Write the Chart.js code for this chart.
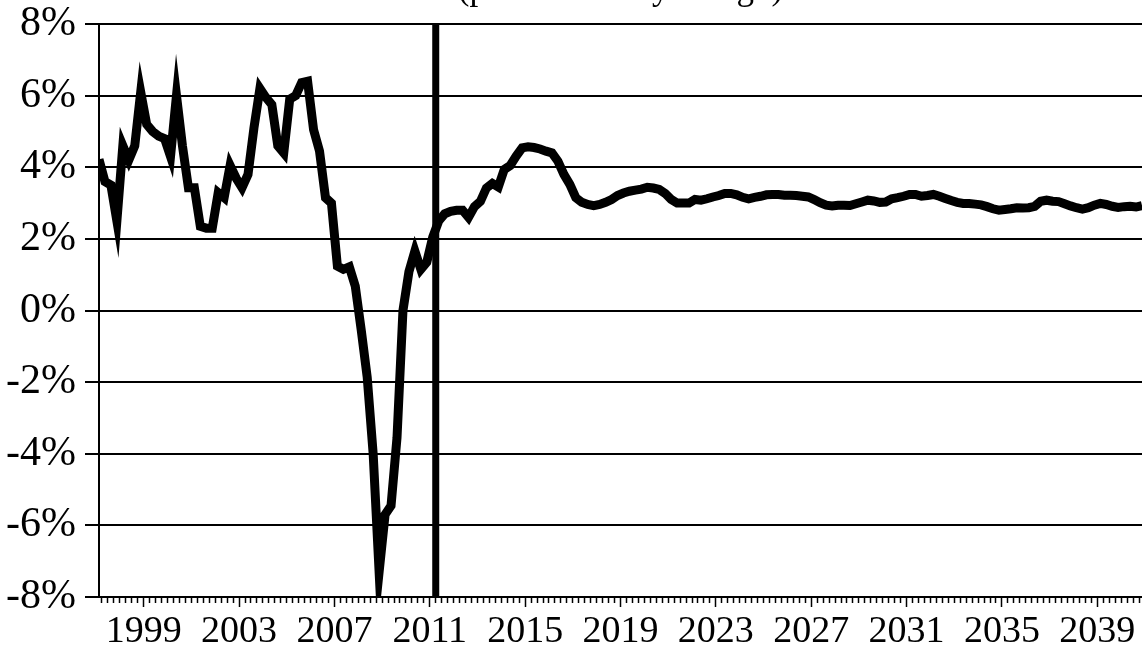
<!DOCTYPE html>
<html>
<head>
<meta charset="utf-8">
<script src="https://cdn.jsdelivr.net/npm/chart.js@4.4.1/dist/chart.umd.min.js"></script>
<style>
  html, body { margin: 0; padding: 0; background: #fff; }
</style>
</head>
<body>
<canvas id="growthChart" width="1142" height="652"></canvas>
<script>
// quarterly series, 1997Q1 .. 2040Q4 (one row = two years)
const firstYear = 1997;
const growth = [
  4.22, 3.6, 3.5, 2.5, 4.6, 4.2, 4.6, 6.1,
  5.2, 5.0, 4.87, 4.8, 4.3, 6.0, 4.6, 3.43,
  3.43, 2.35, 2.3, 2.3, 3.29, 3.15, 4.05, 3.7,
  3.43, 3.8, 5.1, 6.2, 5.95, 5.75, 4.6, 4.4,
  5.9, 6.0, 6.36, 6.4, 5.05, 4.45, 3.15, 3.0,
  1.24, 1.15, 1.22, 0.68, -0.55, -1.86, -4.0, -7.3,
  -5.7, -5.45, -3.55, 0.0, 1.08, 1.66, 1.15, 1.35,
  2.05, 2.5, 2.7, 2.77, 2.8, 2.8, 2.6, 2.9,
  3.05, 3.42, 3.55, 3.45, 3.94, 4.05, 4.31, 4.54,
  4.57, 4.55, 4.51, 4.45, 4.4, 4.17, 3.8, 3.52,
  3.15, 3.02, 2.96, 2.93, 2.96, 3.02, 3.1, 3.21,
  3.28, 3.33, 3.36, 3.39, 3.44, 3.42, 3.38, 3.27,
  3.1, 3.0, 3.0, 3.0, 3.1, 3.08, 3.12, 3.17,
  3.21, 3.27, 3.27, 3.23, 3.16, 3.12, 3.16, 3.19,
  3.23, 3.24, 3.24, 3.22, 3.22, 3.21, 3.19, 3.17,
  3.1, 3.01, 2.94, 2.92, 2.94, 2.94, 2.93, 2.98,
  3.03, 3.08, 3.06, 3.02, 3.03, 3.12, 3.15, 3.19,
  3.24, 3.24, 3.19, 3.21, 3.24, 3.19, 3.13, 3.07,
  3.02, 2.99, 2.99, 2.97, 2.95, 2.9, 2.84, 2.8,
  2.82, 2.84, 2.87, 2.86, 2.87, 2.91, 3.05, 3.08,
  3.05, 3.04, 2.98, 2.92, 2.87, 2.83, 2.87, 2.94,
  2.99, 2.96, 2.91, 2.88, 2.9, 2.91, 2.89, 2.93
];
const yTicks = [-8, -6, -4, -2, 0, 2, 4, 6, 8];
const labelYears = [1999, 2003, 2007, 2011, 2015, 2019, 2023, 2027, 2031, 2035, 2039];
const forecastStart = 2011.25;   // history / forecast divide
const chartTitle = '(percent over year ago)';

// points sit in the middle of their quarter
const points = growth.map((v, i) => ({ x: firstYear + 0.125 + i * 0.25, y: v }));
const xMin = points[0].x;
const xMax = points[points.length - 1].x;
// tick marks on quarter boundaries
const quarterMarks = [];
for (let q = firstYear + 0.25; q < xMax; q += 0.25) quarterMarks.push(q);

const serif = '"Liberation Serif", "Times New Roman", serif';

const extras = {
  id: 'extras',
  beforeDatasetsDraw(chart) {
    // let the sharp V keep its pointed tip like the original
    chart.ctx.miterLimit = 40;
  },
  afterDatasetsDraw(chart) {
    const { ctx, chartArea, scales } = chart;
    const x = scales.x.getPixelForValue(forecastStart);
    ctx.save();
    ctx.fillStyle = '#000';
    ctx.fillRect(x - 3.5, chartArea.top, 7, chartArea.bottom - chartArea.top);
    ctx.restore();
  },
  afterDraw(chart) {
    // title sits mostly above the canvas, only its descenders show
    const { ctx, chartArea } = chart;
    ctx.save();
    ctx.fillStyle = '#000';
    ctx.font = '35px ' + serif;
    ctx.textAlign = 'center';
    ctx.textBaseline = 'alphabetic';
    ctx.fillText(chartTitle, (chartArea.left + chartArea.right) / 2, -1);
    ctx.restore();
  }
};

new Chart(document.getElementById('growthChart'), {
  type: 'line',
  data: {
    datasets: [{
      data: points,
      borderColor: '#000',
      borderWidth: 9,
      pointRadius: 0,
      tension: 0,
      fill: false
    }]
  },
  options: {
    responsive: false,
    animation: false,
    layout: { padding: { top: 24, right: 0, left: 0, bottom: 0 } },
    plugins: { legend: { display: false }, tooltip: { enabled: false } },
    scales: {
      x: {
        type: 'linear',
        min: xMin,
        max: xMax,
        afterBuildTicks: s => { s.ticks = quarterMarks.map(v => ({ value: v })); },
        afterFit: s => { s.height = 55; s.paddingLeft = 0; s.paddingRight = 0; },
        ticks: {
          autoSkip: false,
          maxRotation: 0,
          minRotation: 0,
          padding: 6,
          color: '#000',
          font: { family: serif, size: 38, lineHeight: 1 },
          callback: v => labelYears.includes(v) ? String(v) : ''
        },
        grid: {
          drawOnChartArea: false,
          tickLength: 10,
          tickColor: '#000',
          tickWidth: 1.5,
          tickBorderDash: c => (c.tick && labelYears.includes(c.tick.value)) ? [] : [5, 30]
        },
        border: { color: '#000', width: 2 }
      },
      y: {
        min: -8,
        max: 8,
        afterBuildTicks: s => { s.ticks = yTicks.map(v => ({ value: v })); },
        afterFit: s => { s.width = 99; s.paddingTop = 0; s.paddingBottom = 0; },
        ticks: {
          padding: 9,
          color: '#000',
          font: { family: serif, size: 42, lineHeight: 1 },
          callback: v => v + '%'
        },
        grid: { color: '#000', lineWidth: 2, tickLength: 14, tickColor: '#000' },
        border: { color: '#000', width: 2 }
      }
    }
  },
  plugins: [extras]
});
</script>
</body>
</html>
